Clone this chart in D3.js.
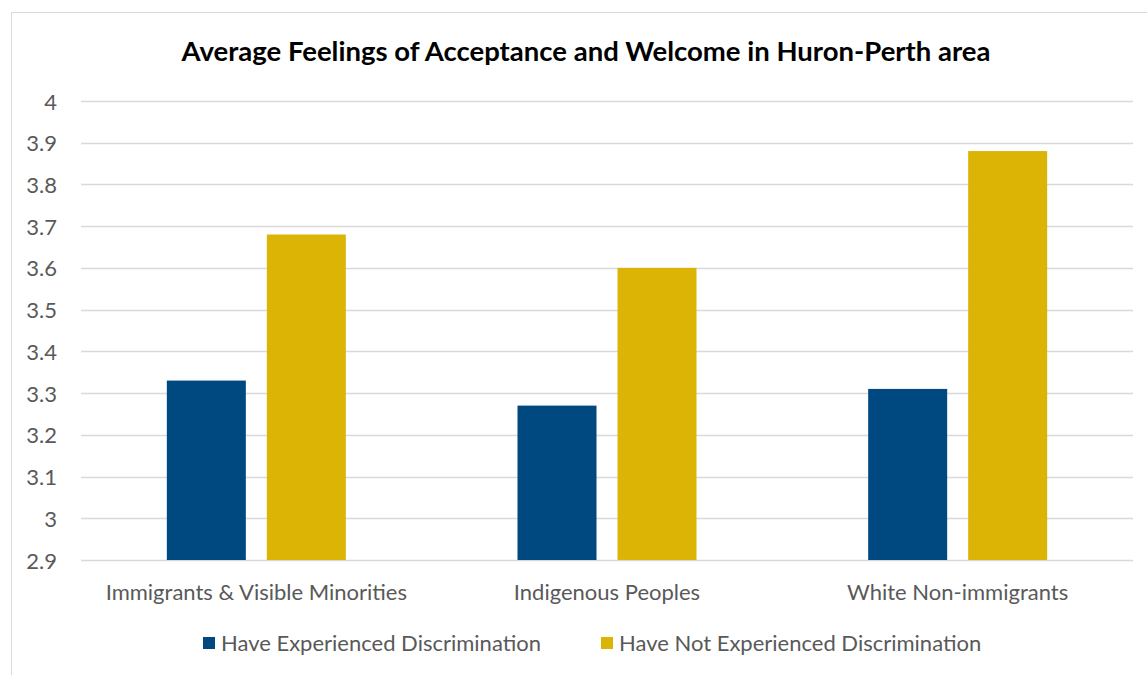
<!DOCTYPE html>
<html>
<head>
<meta charset="utf-8">
<script src="https://cdn.jsdelivr.net/npm/d3@7"></script>
<style>
  html, body { margin: 0; padding: 0; background: #fff; }
  svg { display: block; font-family: Lato, "Open Sans", sans-serif; }
</style>
</head>
<body>
<svg id="chart" width="1147" height="675"></svg>
<script>
const categories = ["Immigrants & Visible Minorities", "Indigenous Peoples", "White Non-immigrants"];
const seriesNames = ["Have Experienced Discrimination", "Have Not Experienced Discrimination"];
const experienced = [3.33, 3.27, 3.31];
const notExperienced = [3.68, 3.60, 3.88];
const yTicks = [2.9, 3, 3.1, 3.2, 3.3, 3.4, 3.5, 3.6, 3.7, 3.8, 3.9, 4];
const colors = ["#004880", "#DBB406"];
const title = "Average Feelings of Acceptance and Welcome in Huron-Perth area";

const svg = d3.select("#chart");
const textColor = "#595959";
const labelSize = "22px";

// chart frame
svg.append("rect")
  .attr("x", 11.5).attr("y", 12.5)
  .attr("width", 1160).attr("height", 700)
  .attr("fill", "#fff").attr("stroke", "#d9d9d9").attr("stroke-width", 1);

const plot = { left: 81, right: 1133, top: 101, bottom: 560 };

const x0 = d3.scaleBand().domain(categories).range([plot.left, plot.right]).paddingInner(0).paddingOuter(0);
const y = d3.scaleLinear().domain([2.9, 4]).range([plot.bottom, plot.top]);

// grid lines
svg.append("g").selectAll("line").data(yTicks).join("line")
  .attr("x1", plot.left).attr("x2", plot.right)
  .attr("y1", d => Math.round(y(d)) + 0.5).attr("y2", d => Math.round(y(d)) + 0.5)
  .attr("stroke", "#d9d9d9").attr("stroke-width", 1.3);

// y axis labels
const yAxis = d3.axisLeft(y).tickValues(yTicks).tickSize(0).tickPadding(0).tickFormat(d3.format("~g"));
const yg = svg.append("g").attr("transform", `translate(${57},1)`).call(yAxis);
yg.select(".domain").remove();
yg.selectAll("text").attr("fill", textColor).style("font-size", labelSize).style("font-family", "Lato, sans-serif");

// bars: two series per category, centered in each band
const barW = 79, barGap = 21;
const rows = categories.map((c, i) => ({ c, vals: [experienced[i], notExperienced[i]] }));
const groups = svg.append("g").selectAll("g").data(rows).join("g")
  .attr("transform", d => `translate(${x0(d.c) + x0.bandwidth() / 2},0)`);
groups.selectAll("rect").data(d => d.vals.map((v, k) => ({ v, k }))).join("rect")
  .attr("x", d => d.k === 0 ? -(barW + barGap / 2) : barGap / 2)
  .attr("width", barW)
  .attr("y", d => y(d.v))
  .attr("height", d => y(2.9) - y(d.v))
  .attr("fill", d => colors[d.k]);

// category labels
svg.append("g").selectAll("text").data(categories).join("text")
  .attr("x", d => x0(d) + x0.bandwidth() / 2)
  .attr("y", 600)
  .attr("text-anchor", "middle")
  .attr("fill", textColor)
  .style("font-size", labelSize)
  .text(d => d);

// title
svg.append("text")
  .attr("x", 586).attr("y", 61)
  .attr("text-anchor", "middle")
  .attr("fill", "#000")
  .style("font-weight", "bold").style("font-size", "27.5px")
  .text(title);

// legend
const legendX = [203, 601];
const lg = svg.append("g").selectAll("g").data(seriesNames).join("g")
  .attr("transform", (d, i) => `translate(${legendX[i]},637)`);
lg.append("rect").attr("width", 12).attr("height", 12).attr("fill", (d, i) => colors[i]);
lg.append("text").attr("x", 18).attr("y", 14).attr("fill", textColor)
  .style("font-size", labelSize).text(d => d);
</script>
</body>
</html>
